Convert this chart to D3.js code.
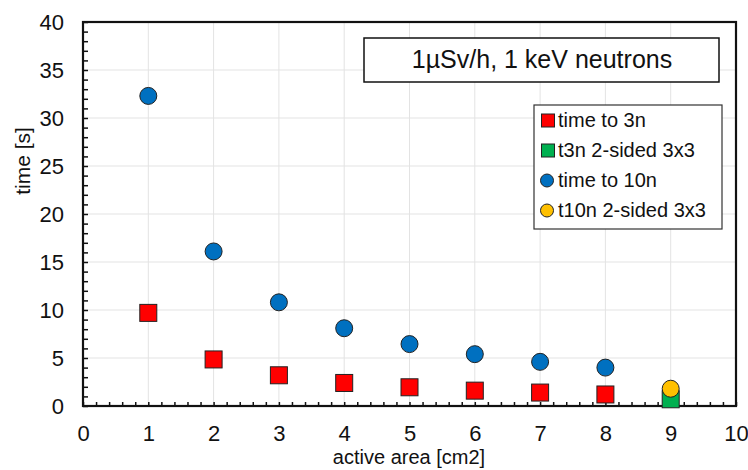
<!DOCTYPE html>
<html>
<head>
<meta charset="utf-8">
<script src="https://cdn.jsdelivr.net/npm/d3@7"></script>
<style>
  html, body { margin: 0; padding: 0; background: #fff; }
  svg { display: block; font-family: "Liberation Sans", Arial, sans-serif; }
</style>
</head>
<body>
<svg id="chart" width="748" height="470"></svg>
<script>
// Detector timing vs active area
const areas = [1, 2, 3, 4, 5, 6, 7, 8];
const timeTo3n = [9.7, 4.85, 3.2, 2.4, 1.95, 1.6, 1.4, 1.2];
const timeTo10n = [32.3, 16.1, 10.8, 8.1, 6.45, 5.4, 4.6, 4.0];
const twoSidedArea = [9];
const t3nTwoSided = [0.7];
const t10nTwoSided = [1.8];
const xTicks = [0, 1, 2, 3, 4, 5, 6, 7, 8, 9, 10];
const yTicks = [0, 5, 10, 15, 20, 25, 30, 35, 40];
const legendLabels = ["time to 3n", "t3n 2-sided 3x3", "time to 10n", "t10n 2-sided 3x3"];
const titleText = "1\u00B5Sv/h, 1 keV neutrons";

const svg = d3.select("#chart");
const m = { left: 83, right: 736, top: 22, bottom: 406 };

const x = d3.scaleLinear().domain([0, 10]).range([m.left, m.right]);
const y = d3.scaleLinear().domain([0, 40]).range([m.bottom, m.top]);

// gridlines
const grid = svg.append("g").attr("stroke", "#e3e3e3").attr("stroke-width", 1);
xTicks.slice(1, -1).forEach(t => {
  grid.append("line").attr("x1", x(t)).attr("x2", x(t)).attr("y1", m.top).attr("y2", m.bottom);
});
yTicks.slice(1, -1).forEach(t => {
  grid.append("line").attr("x1", m.left).attr("x2", m.right).attr("y1", y(t)).attr("y2", y(t));
});

// axes with inward minor ticks
const xMinor = d3.range(0, 10.001, 0.2);
const yMinor = d3.range(0, 40.001, 1);
const xAxisMinor = d3.axisBottom(x).tickValues(xMinor).tickSize(-4).tickFormat("");
const yAxisMinor = d3.axisLeft(y).tickValues(yMinor).tickSize(-5).tickFormat("");
svg.append("g").attr("transform", `translate(0,${m.bottom})`).call(xAxisMinor)
  .call(g => g.select(".domain").remove())
  .call(g => g.selectAll("line").attr("stroke", "#111").attr("stroke-width", 1.5));
svg.append("g").attr("transform", `translate(${m.left},0)`).call(yAxisMinor)
  .call(g => g.select(".domain").remove())
  .call(g => g.selectAll("line").attr("stroke", "#111").attr("stroke-width", 1.5));

const xAxis = d3.axisBottom(x).tickValues(xTicks).tickSize(0).tickPadding(19).tickFormat(d3.format("d"));
const yAxis = d3.axisLeft(y).tickValues(yTicks).tickSize(0).tickPadding(19).tickFormat(d3.format("d"));
svg.append("g").attr("transform", `translate(0,${m.bottom})`).call(xAxis)
  .call(g => g.select(".domain").remove())
  .call(g => g.selectAll("text").attr("font-size", 22).attr("fill", "#111")
    .attr("font-family", "Liberation Sans, Arial, sans-serif"));
svg.append("g").attr("transform", `translate(${m.left},0)`).call(yAxis)
  .call(g => g.select(".domain").remove())
  .call(g => g.selectAll("text").attr("font-size", 22).attr("fill", "#111")
    .attr("font-family", "Liberation Sans, Arial, sans-serif"));

// plot frame
svg.append("rect").attr("x", m.left).attr("y", m.top)
  .attr("width", m.right - m.left).attr("height", m.bottom - m.top)
  .attr("fill", "none").attr("stroke", "#111").attr("stroke-width", 2.2);

// axis titles
svg.append("text").attr("x", 409).attr("y", 464)
  .attr("text-anchor", "middle").attr("font-size", 20).attr("fill", "#111")
  .text("active area [cm2]");
svg.append("text").attr("transform", `translate(30,161) rotate(-90)`)
  .attr("text-anchor", "middle").attr("font-size", 21).attr("fill", "#111")
  .text("time [s]");

// markers
const sq = 17, r = 8.5;
const stroke = "#222";
function squares(xs, ys, fill) {
  svg.append("g").selectAll("rect").data(xs.map((d, i) => [d, ys[i]])).join("rect")
    .attr("x", d => x(d[0]) - sq / 2).attr("y", d => y(d[1]) - sq / 2)
    .attr("width", sq).attr("height", sq)
    .attr("fill", fill).attr("stroke", stroke).attr("stroke-width", 1);
}
function circles(xs, ys, fill) {
  svg.append("g").selectAll("circle").data(xs.map((d, i) => [d, ys[i]])).join("circle")
    .attr("cx", d => x(d[0])).attr("cy", d => y(d[1])).attr("r", r)
    .attr("fill", fill).attr("stroke", stroke).attr("stroke-width", 1);
}
const colors = ["#ff0000", "#00b050", "#0070c0", "#ffc000"];
squares(areas, timeTo3n, colors[0]);
circles(areas, timeTo10n, colors[2]);
squares(twoSidedArea, t3nTwoSided, colors[1]);
circles(twoSidedArea, t10nTwoSided, colors[3]);

// title box
svg.append("rect").attr("x", 364).attr("y", 38).attr("width", 355).attr("height", 44)
  .attr("fill", "#fff").attr("stroke", "#111").attr("stroke-width", 1.5);
svg.append("text").attr("x", 542).attr("y", 68).attr("text-anchor", "middle")
  .attr("font-size", 25).attr("fill", "#111").text(titleText);

// legend
const lg = svg.append("g");
lg.append("rect").attr("x", 534).attr("y", 105).attr("width", 188).attr("height", 124)
  .attr("fill", "#fff").attr("stroke", "#333").attr("stroke-width", 1.2);
legendLabels.forEach((lab, i) => {
  const base = 127 + i * 30;
  const cy = base - 6.5;
  if (i < 2) {
    lg.append("rect").attr("x", 541.5).attr("y", cy - 6.5).attr("width", 13).attr("height", 13)
      .attr("fill", colors[i]).attr("stroke", stroke).attr("stroke-width", 1);
  } else {
    lg.append("circle").attr("cx", 547).attr("cy", cy).attr("r", 6.5)
      .attr("fill", colors[i]).attr("stroke", stroke).attr("stroke-width", 1);
  }
  lg.append("text").attr("x", 558).attr("y", base).attr("font-size", 20)
    .attr("fill", "#111").text(lab);
});
</script>
</body>
</html>
